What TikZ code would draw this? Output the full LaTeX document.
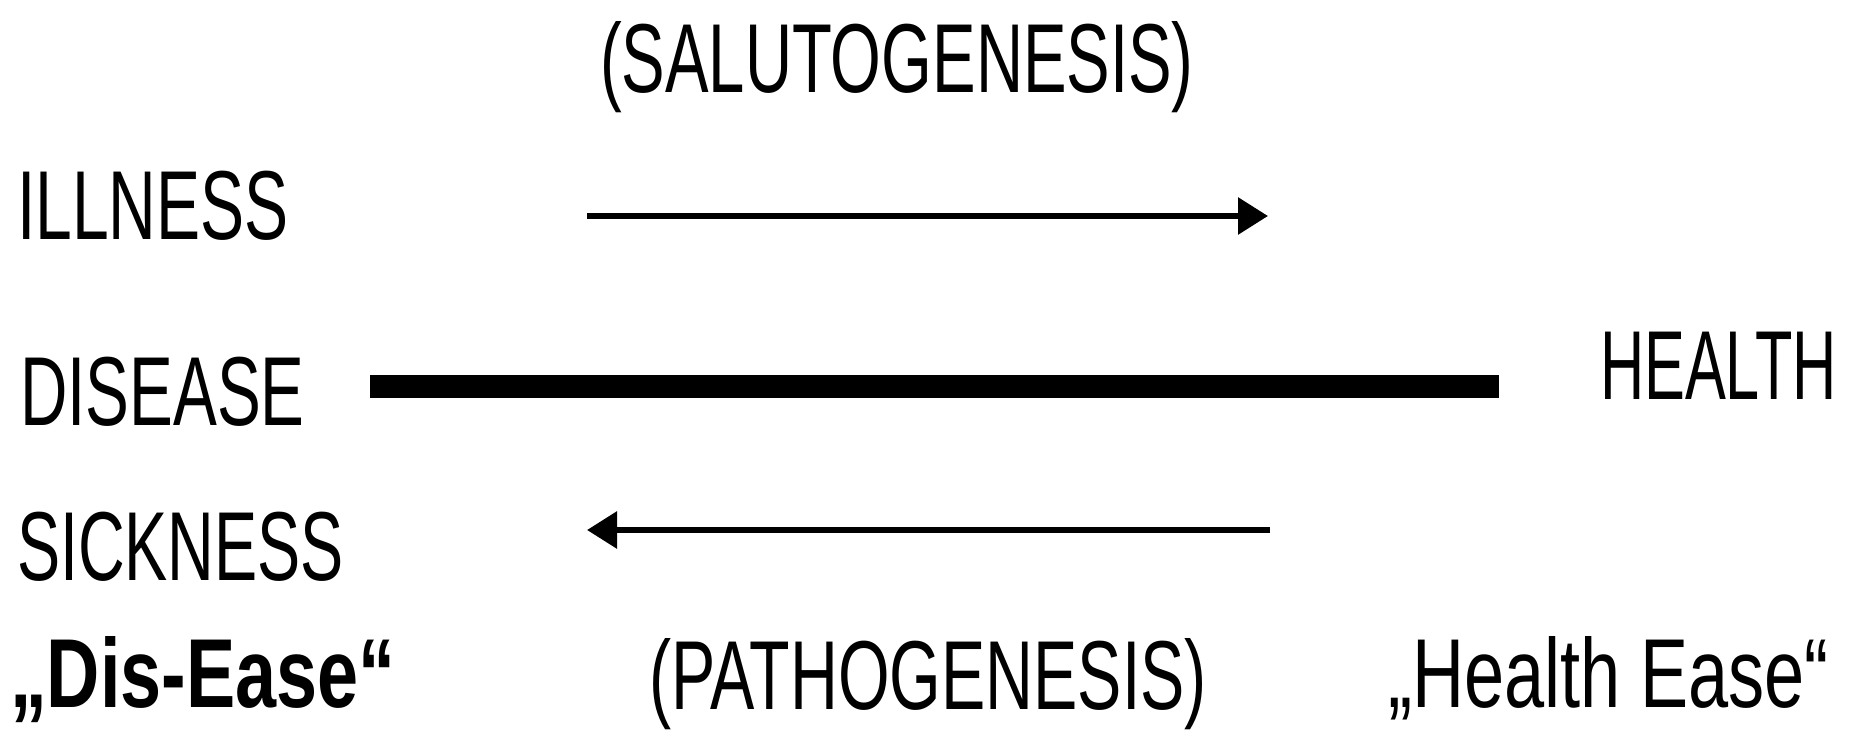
\documentclass[tikz,border=0pt]{standalone}
\usepackage{fontspec}
\setmainfont{Liberation Sans}
\usetikzlibrary{arrows.meta}
\newcommand{\narrowtxt}[2]{\scalebox{#1}[1]{#2}}
\tikzset{
  lbl/.style={inner sep=0pt, outer sep=0pt, anchor=base west, font=\fontsize{98}{98}\selectfont},
  thin arrow/.style={line width=6pt, -{Triangle[length=30pt,width=36pt]}},
  thick bar/.style={line width=23pt, line cap=butt},
}
\begin{document}
\begin{tikzpicture}[x=1pt,y=-1pt]
\useasboundingbox[fill=white] (0,0) rectangle (1861,736);
% labels
\node[lbl] (salu) at (600,92) {\narrowtxt{0.666}{(SALUTOGENESIS)}};
\node[lbl] (ill) at (17,239) {\narrowtxt{0.674}{ILLNESS}};
\node[lbl] (dis) at (20,425) {\narrowtxt{0.67}{DISEASE}};
\node[lbl] (health) at (1600,399) {\narrowtxt{0.625}{HEALTH}};
\node[lbl] (sick) at (17,580) {\narrowtxt{0.66}{SICKNESS}};
\node[lbl, font=\fontsize{98}{98}\selectfont\bfseries] (disease) at (10,707) {\narrowtxt{0.753}{„Dis-Ease“}};
\node[lbl] (patho) at (649,709) {\narrowtxt{0.677}{(PATHOGENESIS)}};
\node[lbl] (hease) at (1388,707) {\narrowtxt{0.736}{„Health Ease“}};
% connector ends
\coordinate (ta) at (587,216);
\coordinate (tb) at (1268,216);
\coordinate (ba) at (1270,530);
\coordinate (bb) at (587,530);
\coordinate (ma) at (370,386.5);
\coordinate (mb) at (1499,386.5);
% connectors
\draw[thin arrow] (ta) -- (tb);
\draw[thick bar] (ma) -- (mb);
\draw[thin arrow] (ba) -- (bb);
\end{tikzpicture}
\end{document}
